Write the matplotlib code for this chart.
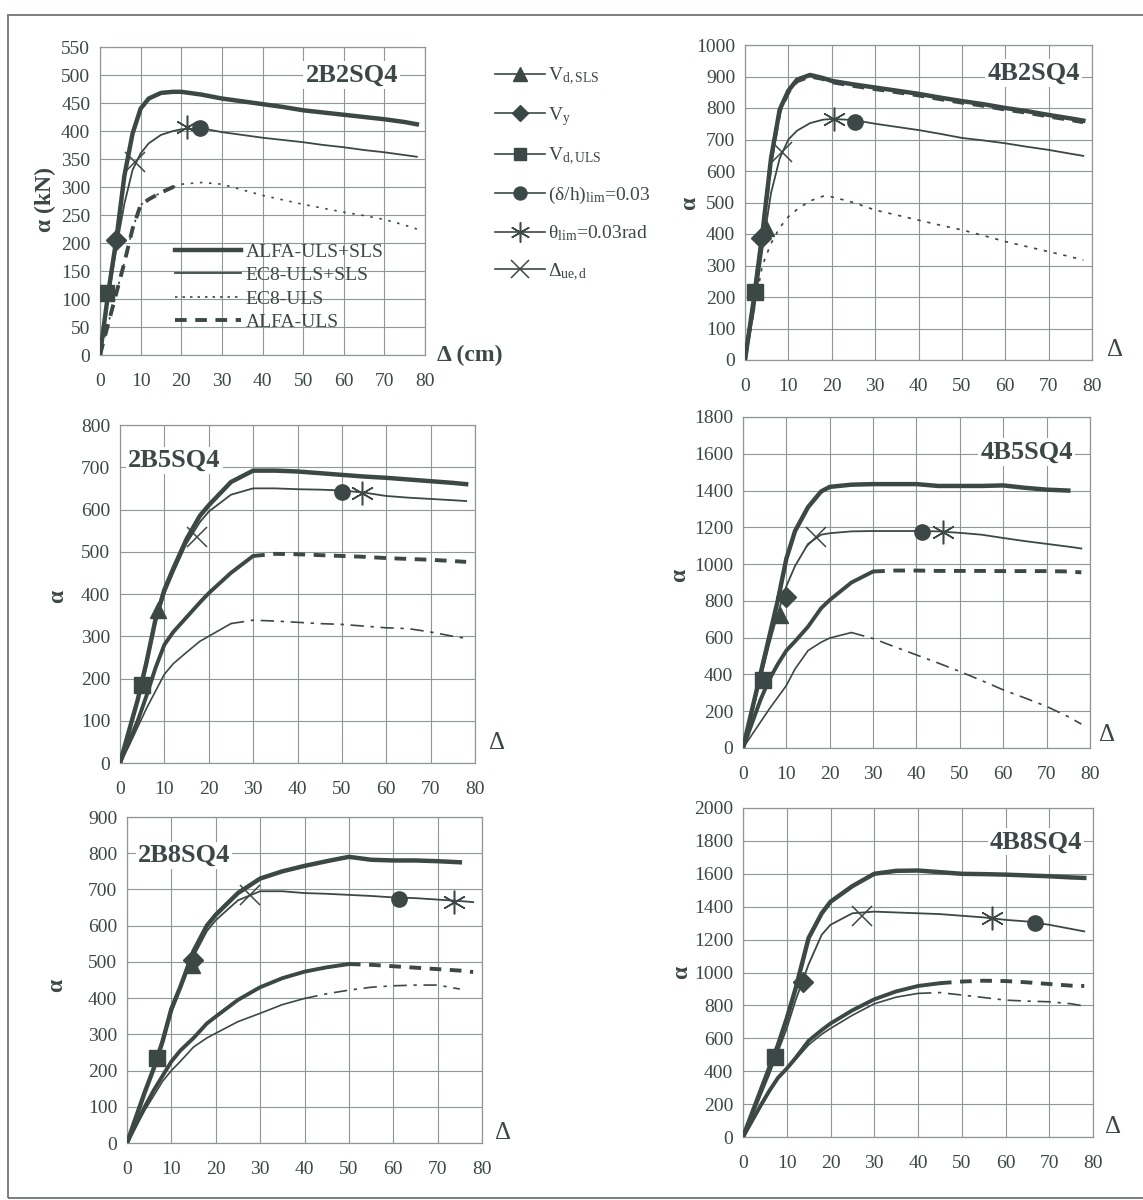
import numpy as np
import matplotlib.pyplot as plt
from matplotlib.lines import Line2D
from matplotlib.patches import Rectangle

plt.rcParams['font.family'] = ['Liberation Serif', 'DejaVu Serif']
plt.rcParams['mathtext.fontset'] = 'custom'
plt.rcParams['mathtext.rm'] = 'Liberation Serif'
plt.rcParams['mathtext.it'] = 'Liberation Serif:italic'

ink = '#3c4846'
grid_c = '#8f9795'
nan = np.nan

# top displacement grid (cm), shared by every panel
d = [0, 2, 4, 6, 8, 10, 12, 15, 18, 20, 25, 30, 35, 40, 45, 50, 55, 60, 65, 70, 75, 78]

# 2B2SQ4
p1_alfa_sls = [0, 110, 205, 320, 395, 440, 458, 468, 470, 470, 465, 458, 453, 448, 443, 437, 433, 429, 425, 421, 416, 412]
p1_ec8_sls = [0, 100, 190, 270, 330, 360, 378, 393, 400, 403, 405, 398, 393, 388, 384, 380, 375, 371, 366, 362, 357, 354]
p1_ec8_uls = [0, 55, 110, 165, 225, 268, 278, 290, 300, 305, 308, 305, 295, 285, 277, 269, 262, 255, 249, 242, 232, 225]
p1_alfa_uls = [0, 55, 110, 165, 225, 268, 278, 290, 300, 305, nan, nan, nan, nan, nan, nan, nan, nan, nan, nan, nan, nan]

# 4B2SQ4
p2_alfa_sls = [0, 190, 400, 640, 795, 855, 890, 905, 895, 886, 875, 865, 855, 845, 833, 822, 812, 800, 790, 778, 767, 760]
p2_ec8_sls = [0, 150, 350, 530, 640, 700, 728, 752, 763, 765, 762, 750, 740, 730, 718, 705, 697, 688, 677, 667, 655, 648]
p2_ec8_uls = [0, 150, 300, 370, 420, 455, 478, 505, 520, 518, 500, 476, 460, 444, 428, 413, 395, 376, 360, 344, 328, 317]
p2_alfa_uls = [0, 185, 395, 635, 790, 850, 885, 900, 892, 882, 870, 860, 850, 840, 828, 817, 807, 795, 785, 773, 762, 755]

# 2B5SQ4
p3_alfa_sls = [0, 75, 150, 240, 340, 410, 460, 530, 585, 610, 665, 692, 692, 690, 686, 682, 678, 675, 671, 667, 663, 660]
p3_ec8_sls = [0, 70, 145, 230, 330, 400, 450, 520, 570, 595, 635, 650, 650, 648, 647, 645, 640, 632, 628, 625, 622, 620]
p3_ec8_uls = [0, 40, 85, 130, 170, 210, 235, 262, 288, 300, 330, 338, 336, 333, 330, 328, 324, 320, 318, 310, 300, 295]
p3_alfa_uls = [0, 50, 100, 160, 225, 280, 310, 345, 380, 402, 450, 490, 495, 494, 492, 490, 488, 485, 483, 481, 478, 476]

# 4B5SQ4
p4_alfa_sls = [0, 200, 400, 600, 800, 1030, 1180, 1310, 1395, 1420, 1432, 1435, 1435, 1435, 1425, 1425, 1425, 1428, 1415, 1405, 1400, nan]
p4_ec8_sls = [0, 180, 370, 560, 730, 880, 990, 1110, 1160, 1168, 1178, 1180, 1180, 1180, 1178, 1170, 1160, 1142, 1125, 1110, 1095, 1085]
p4_ec8_uls = [0, 70, 140, 210, 275, 340, 430, 530, 575, 598, 628, 595, 550, 506, 462, 416, 367, 316, 272, 226, 170, 130]
p4_alfa_uls = [0, 130, 260, 370, 455, 530, 580, 660, 760, 805, 900, 960, 965, 965, 963, 963, 963, 962, 962, 962, 960, 955]

# 2B8SQ4
p5_alfa_sls = [0, 70, 140, 205, 280, 370, 430, 530, 600, 630, 690, 730, 750, 765, 778, 790, 782, 780, 780, 778, 775, nan]
p5_ec8_sls = [0, 70, 140, 205, 280, 360, 425, 515, 585, 615, 670, 695, 695, 690, 688, 685, 682, 678, 676, 672, 668, 665]
p5_ec8_uls = [0, 45, 90, 130, 170, 200, 225, 265, 290, 303, 335, 358, 382, 399, 412, 422, 430, 434, 436, 436, 425, nan]
p5_alfa_uls = [0, 50, 100, 145, 185, 225, 255, 290, 330, 349, 395, 430, 455, 473, 485, 494, 492, 488, 484, 480, 476, 472]

# 4B8SQ4
p6_alfa_sls = [0, 140, 280, 420, 560, 720, 900, 1210, 1360, 1430, 1525, 1600, 1618, 1620, 1610, 1600, 1598, 1595, 1590, 1585, 1578, 1575]
p6_ec8_sls = [0, 120, 250, 380, 520, 660, 830, 1050, 1230, 1290, 1360, 1370, 1365, 1360, 1355, 1345, 1335, 1320, 1310, 1290, 1265, 1250]
p6_ec8_uls = [0, 90, 180, 270, 355, 410, 470, 560, 625, 660, 740, 810, 850, 873, 878, 863, 848, 832, 826, 822, 810, 796]
p6_alfa_uls = [0, 95, 190, 280, 360, 416, 480, 585, 650, 690, 770, 837, 885, 918, 935, 945, 950, 948, 940, 930, 920, 918]

# limit-state points (Δ, α); None where not shown
p1_pts = {'tri': None, 'dia': (4, 205), 'sq': (1.5, 110), 'circ': (24.6, 405), 'ast': (21.3, 408), 'x': (8.6, 345)}
p2_pts = {'tri': (4.8, 418), 'dia': (3.8, 386), 'sq': (2.3, 217), 'circ': (25.4, 757), 'ast': (20.5, 765), 'x': (8.5, 661)}
p3_pts = {'tri': (8.6, 362), 'dia': None, 'sq': (4.9, 185), 'circ': (50, 642), 'ast': (54.5, 640), 'x': (17.3, 535)}
p4_pts = {'tri': (8.5, 724), 'dia': (10, 823), 'sq': (4.6, 371), 'circ': (41.2, 1176), 'ast': (46, 1176), 'x': (16.9, 1149)}
p5_pts = {'tri': (14.7, 492), 'dia': (14.9, 505), 'sq': (6.8, 234), 'circ': (61.3, 675), 'ast': (73.7, 665), 'x': (27.8, 685)}
p6_pts = {'tri': None, 'dia': (13.7, 944), 'sq': (7.3, 487), 'circ': (66.8, 1300), 'ast': (56.9, 1330), 'x': (27.1, 1345)}

W, H = 1143, 1200
fig = plt.figure(figsize=(W / 100, H / 100), dpi=100)

def px_axes(l, r, t, b):
    return fig.add_axes([l / W, 1 - b / H, (r - l) / W, (b - t) / H])

def ftext(x, y, s, **kw):
    fig.text(x / W, 1 - y / H, s, color=ink, **kw)

mk = {'tri': dict(marker='^', ms=12), 'dia': dict(marker='D', ms=10),
      'sq': dict(marker='s', ms=11), 'circ': dict(marker='o', ms=11),
      'ast': dict(marker=(6, 2, 0), ms=17, mew=1.1), 'x': dict(marker='x', ms=15, mew=1.1)}

def split_plot(ax, x, y, cut, lw, ls_after):
    x = np.array(x, float)
    y = np.array(y, float)
    a = x <= cut
    b = x >= cut
    if a.sum() > 1:
        ax.plot(x[a], y[a], color=ink, lw=lw, solid_capstyle='round', zorder=3)
    ax.plot(x[b], y[b], color=ink, lw=lw, ls=ls_after, zorder=3)

# (axes px box, ymax, ystep, name, title x, title y, ha, curves, points, alfa cut, ec8 cut, ec8 style)
panels = [
    ((100, 425, 47, 355), 550, 50, '2B2SQ4', 0.917, 0.909, 'right',
     (p1_alfa_sls, p1_ec8_sls, p1_ec8_uls, p1_alfa_uls), p1_pts, -1, -1, (0, (1.5, 4))),
    ((745, 1092, 45, 360), 1000, 100, '4B2SQ4', 0.965, 0.911, 'right',
     (p2_alfa_sls, p2_ec8_sls, p2_ec8_uls, p2_alfa_uls), p2_pts, -1, -1, (0, (2, 4))),
    ((120, 475, 425, 763), 800, 100, '2B5SQ4', 0.023, 0.896, 'left',
     (p3_alfa_sls, p3_ec8_sls, p3_ec8_uls, p3_alfa_uls), p3_pts, 30, 25, (0, (8, 4, 2, 4))),
    ((743, 1090, 417, 748), 1800, 200, '4B5SQ4', 0.951, 0.894, 'right',
     (p4_alfa_sls, p4_ec8_sls, p4_ec8_uls, p4_alfa_uls), p4_pts, 30, 25, (0, (8, 4, 2, 4))),
    ((127, 482, 817, 1143), 900, 100, '2B8SQ4', 0.031, 0.883, 'left',
     (p5_alfa_sls, p5_ec8_sls, p5_ec8_uls, p5_alfa_uls), p5_pts, 50, 40, (0, (8, 4, 2, 4))),
    ((743, 1093, 808, 1137), 2000, 200, '4B8SQ4', 0.969, 0.897, 'right',
     (p6_alfa_sls, p6_ec8_sls, p6_ec8_uls, p6_alfa_uls), p6_pts, 45, 40, (0, (8, 4, 2, 4))),
]

axes = []
for box, ymax, ystep, name, tx, ty, ha, curves, pts, acut, ecut, els in panels:
    ax = px_axes(*box)
    axes.append(ax)
    alfa_sls, ec8_sls, ec8_uls, alfa_uls = curves
    ax.plot(d, alfa_sls, color=ink, lw=3.2, zorder=4)
    ax.plot(d, ec8_sls, color=ink, lw=1.3, zorder=4)
    split_plot(ax, d, ec8_uls, ecut, 1.2, els)
    split_plot(ax, d, alfa_uls, acut, 2.8, (0, (3, 2.2)))
    for key, p in pts.items():
        if p is None:
            continue
        fill = ink if key not in ('ast', 'x') else 'none'
        ax.plot([p[0]], [p[1]], ls='none', color=ink, mfc=fill, mec=ink, zorder=6, **mk[key])
    ax.set_xlim(0, 80)
    ax.set_ylim(0, ymax)
    ax.set_xticks(np.arange(0, 81, 10))
    ax.set_yticks(np.arange(0, ymax + 1, ystep))
    ax.grid(True, color=grid_c, lw=0.8)
    ax.set_axisbelow(True)
    for s in ax.spines.values():
        s.set_color(grid_c)
        s.set_linewidth(0.9)
    ax.tick_params(length=0, labelsize=14, colors=ink)
    ax.tick_params(axis='x', pad=13)
    ax.tick_params(axis='y', pad=7)
    ax.text(tx, ty, name, transform=ax.transAxes, ha=ha, va='center', fontsize=19,
            fontweight='bold', color=ink, zorder=7,
            bbox=dict(facecolor='white', edgecolor='none', pad=1.5))

# line-style legend inside the first panel
style_handles = [
    Line2D([], [], color=ink, lw=3.2),
    Line2D([], [], color=ink, lw=1.3),
    Line2D([], [], color=ink, lw=1.2, ls=(0, (1.5, 3))),
    Line2D([], [], color=ink, lw=2.8, ls=(0, (3, 2.2))),
]
axes[0].legend(style_handles, ['ALFA-ULS+SLS', 'EC8-ULS+SLS', 'EC8-ULS', 'ALFA-ULS'],
               loc='upper left', bbox_to_anchor=(0.2, 0.395), frameon=False,
               fontsize=14, handlelength=3.4, handletextpad=0.25, labelspacing=0.3,
               borderpad=0, labelcolor=ink)

# limit-state marker legend to the right of the first panel
mark_handles = []
for key in ['tri', 'dia', 'sq', 'circ', 'ast', 'x']:
    kw = dict(mk[key])
    kw['ms'] = kw['ms'] * 0.85
    fill = ink if key not in ('ast', 'x') else 'none'
    mark_handles.append(Line2D([], [], color=ink, lw=1.2, mfc=fill, mec=ink, **kw))
mark_labels = [r'V$_{\rm d,SLS}$', r'V$_{\rm y}$', r'V$_{\rm d,ULS}$',
               r'(δ/h)$_{\rm lim}$=0.03', r'θ$_{\rm lim}$=0.03rad', r'Δ$_{\rm ue,d}$']
fig.legend(mark_handles, mark_labels, loc='upper left',
           bbox_to_anchor=(485 / W, 1 - 56 / H), frameon=False, fontsize=14,
           handlelength=2.6, handletextpad=0.15, labelspacing=0.92, borderpad=0,
           labelcolor=ink)

# axis titles
ftext(45, 200, 'α (kN)', rotation=90, ha='center', va='center', fontsize=17, fontweight='bold')
ftext(690, 203, 'α', rotation=90, ha='center', va='center', fontsize=17, fontweight='bold')
ftext(58, 596, 'α', rotation=90, ha='center', va='center', fontsize=17, fontweight='bold')
ftext(680, 575, 'α', rotation=90, ha='center', va='center', fontsize=17, fontweight='bold')
ftext(57, 985, 'α', rotation=90, ha='center', va='center', fontsize=17, fontweight='bold')
ftext(682, 972, 'α', rotation=90, ha='center', va='center', fontsize=17, fontweight='bold')

ftext(437, 355, 'Δ (cm)', ha='left', va='center', fontsize=17, fontweight='bold')
ftext(1115, 350, 'Δ', ha='center', va='center', fontsize=18)
ftext(497, 743, 'Δ', ha='center', va='center', fontsize=18)
ftext(1107, 735, 'Δ', ha='center', va='center', fontsize=18)
ftext(503, 1133, 'Δ', ha='center', va='center', fontsize=18)
ftext(1113, 1127, 'Δ', ha='center', va='center', fontsize=18)

# outer frame of the figure
fig.add_artist(Rectangle((8 / W, 1 - 1198 / H), 1.2, (1198 - 15) / H, transform=fig.transFigure,
                         fill=False, edgecolor='#6d7573', lw=1.3))

fig.savefig('out.png', dpi=100, facecolor='white')
